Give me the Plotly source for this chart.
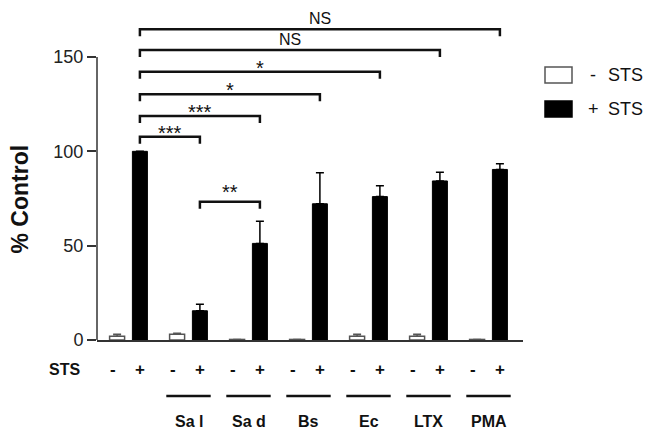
import plotly.graph_objects as go

# ---------------- data ----------------
groups = ["", "Sa l", "Sa d", "Bs", "Ec", "LTX", "PMA"]
minus_sts = [2.0, 3.0, 0.3, 0.3, 2.0, 2.0, 0.3]
minus_sts_err = [1.0, 0.6, 0.0, 0.0, 1.0, 1.0, 0.0]
plus_sts = [100.0, 15.5, 51.2, 72.2, 76.0, 84.3, 90.4]
plus_sts_err = [0.0, 3.4, 11.7, 16.5, 5.8, 4.6, 3.0]
y_ticks = [0, 50, 100, 150]

# significance brackets (group index of "+ STS" bar at each end)
bracket_from = [0, 0, 0, 0, 0, 0, 1]
bracket_to = [6, 5, 4, 3, 2, 1, 2]
bracket_y = [164.7, 153.7, 142.2, 130.2, 118.7, 107.7, 73.3]
bracket_text = ["NS", "NS", "*", "*", "***", "***", "**"]

# ---------------- layout helpers ----------------
OFF = 0.19      # offset of each bar from group centre
BW = 0.25       # bar width
FONT = "Arial, Liberation Sans, Helvetica, sans-serif"
AX = "#333333"
TXT = "#111111"

idx = list(range(len(groups)))
x_minus = [i - OFF for i in idx]
x_plus = [i + OFF for i in idx]

fig = go.Figure()
fig.add_trace(go.Bar(
    x=x_minus, y=minus_sts, width=BW, name="- STS",
    marker=dict(color="white", line=dict(color="#555555", width=1.5)),
    error_y=dict(type="data", array=minus_sts_err, arrayminus=[0] * len(idx),
                 color="#555555", thickness=1.5, width=4),
    showlegend=False,
))
fig.add_trace(go.Bar(
    x=x_plus, y=plus_sts, width=BW, name="+ STS",
    marker=dict(color="black", line=dict(color="black", width=1)),
    error_y=dict(type="data", array=plus_sts_err, arrayminus=[0] * len(idx),
                 color="black", thickness=1.5, width=4),
    showlegend=False,
))

shapes = []
annotations = []


def note(**kw):
    kw.setdefault("showarrow", False)
    kw.setdefault("xanchor", "center")
    kw.setdefault("yanchor", "middle")
    annotations.append(kw)


# y axis line only up to 150
shapes.append(dict(type="line", xref="paper", yref="y", x0=0, x1=0, y0=0, y1=max(y_ticks),
                   line=dict(color=AX, width=1.5)))

# brackets
TICK = 3.7
for a, b, y, t in zip(bracket_from, bracket_to, bracket_y, bracket_text):
    xa, xb = x_plus[a], x_plus[b]
    shapes.append(dict(type="path", xref="x", yref="y",
                       path=f"M {xa},{y - TICK} L {xa},{y} L {xb},{y} L {xb},{y - TICK}",
                       line=dict(color=TXT, width=2.5)))
    if t == "NS":
        note(x=(xa + xb) / 2, y=y, xref="x", yref="y", text=t, yanchor="bottom",
             font=dict(family=FONT, size=16, color=TXT))
    else:
        note(x=(xa + xb) / 2, y=y, xref="x", yref="y", text=t,
             yshift=10 if t == "**" else 4,
             font=dict(family=FONT, size=20, color=TXT))

# STS row
ROW_Y = -0.092
note(x=-0.077, y=ROW_Y, xref="paper", yref="paper", text="<b>STS</b>",
     font=dict(family=FONT, size=16, color=TXT))
for i in idx:
    note(x=x_minus[i], y=ROW_Y, xref="x", yref="paper", text="<b>-</b>", xshift=-4,
         font=dict(family=FONT, size=17, color=TXT))
    note(x=x_plus[i], y=ROW_Y, xref="x", yref="paper", text="<b>+</b>",
         font=dict(family=FONT, size=17, color=TXT))

# group underlines and labels
for i, g in zip(idx, groups):
    if not g:
        continue
    shapes.append(dict(type="line", xref="x", yref="paper", x0=i - 0.37, x1=i + 0.37,
                       y0=-0.172, y1=-0.172, line=dict(color=TXT, width=2.5)))
    note(x=i, y=-0.252, xref="x", yref="paper", text=f"<b>{g}</b>",
         font=dict(family=FONT, size=16, color=TXT))

# y axis title
note(x=-0.181, y=0.435, xref="paper", yref="paper", text="<b>% Control</b>", textangle=-90,
     font=dict(family=FONT, size=23, color=TXT))


# manual legend
def px_x(p):
    return (p - 97) / 426.0


def px_y(p):
    return (340 - p) / 325.0


leg_items = [("- STS", "white", "#555555", 75), ("+ STS", "black", "black", 109)]
for label, fill, edge, cy in leg_items:
    shapes.append(dict(type="rect", xref="paper", yref="paper",
                       x0=px_x(545), x1=px_x(572), y0=px_y(cy + 8), y1=px_y(cy - 8),
                       fillcolor=fill, line=dict(color=edge, width=1.5)))
    sign, word = label.split(" ")
    note(x=px_x(593), y=px_y(cy), xref="paper", yref="paper", text=sign,
         font=dict(family=FONT, size=18, color=TXT))
    note(x=px_x(606), y=px_y(cy), xref="paper", yref="paper", text=word, xanchor="left",
         font=dict(family=FONT, size=18, color=TXT))

fig.update_layout(
    width=648, height=432,
    margin=dict(l=97, r=125, t=15, b=92, pad=0),
    paper_bgcolor="white", plot_bgcolor="white",
    barmode="overlay",
    font=dict(family=FONT, color=TXT),
    xaxis=dict(range=[-0.525, 6.575], showgrid=False, zeroline=False,
               showline=True, linecolor=AX, linewidth=1.5,
               showticklabels=False, ticks=""),
    yaxis=dict(range=[0, 172.26], showgrid=False, zeroline=False, showline=False,
               tickvals=y_ticks, ticks="outside", ticklen=9, tickwidth=1.5, tickcolor=AX,
               tickfont=dict(family=FONT, size=18, color="#222222")),
    shapes=shapes,
    annotations=annotations,
    showlegend=False,
)

fig.write_html("out.html", config={"displayModeBar": False},
               post_script="document.body.style.margin='0px';document.body.style.overflow='hidden';")
